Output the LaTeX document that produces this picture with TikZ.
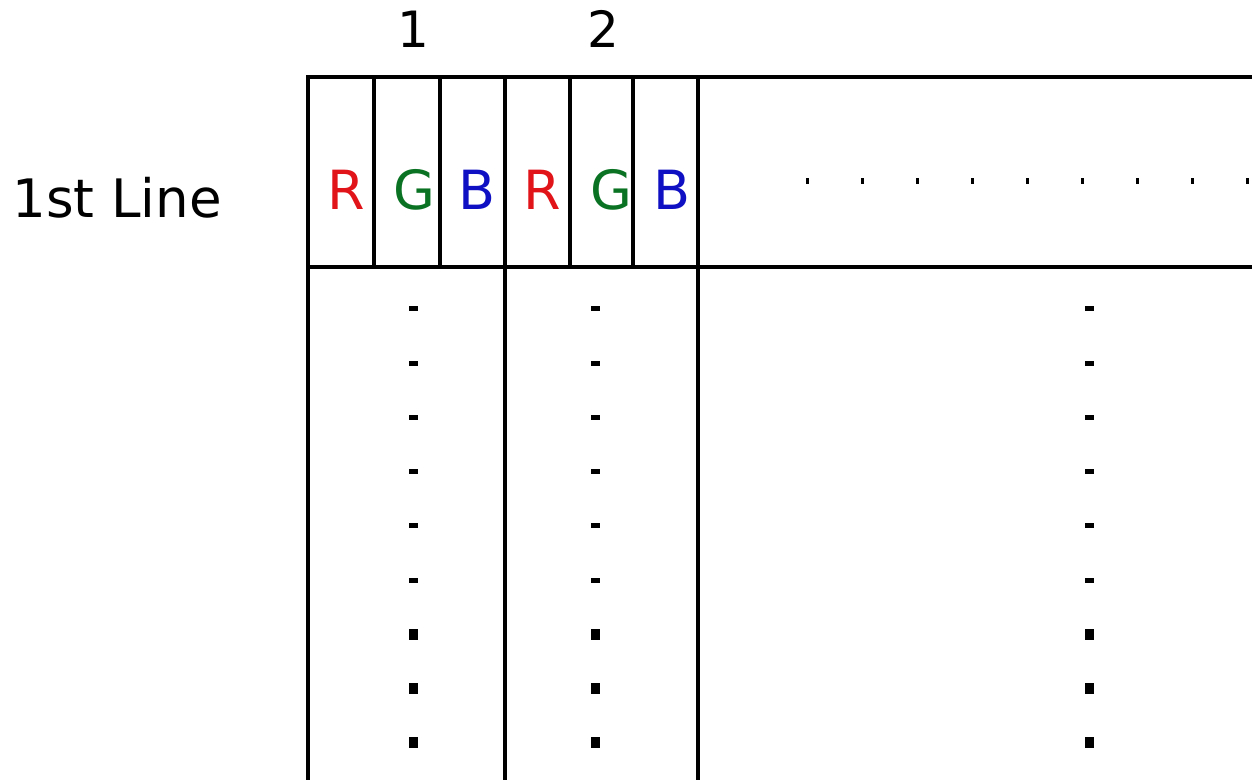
\documentclass[tikz,border=0pt]{standalone}
\usepackage{fontspec}
\setmainfont{DejaVu Sans}
\usetikzlibrary{positioning}
\definecolor{subred}{RGB}{225,20,25}
\definecolor{subgreen}{RGB}{10,115,35}
\definecolor{subblue}{RGB}{15,15,195}
\tikzset{
  gridline/.style = {line width=1.8pt, line cap=rect},
  sub/.style      = {font=\fontsize{27}{27}\selectfont, inner sep=0pt, anchor=base},
  lbl/.style      = {font=\fontsize{25}{25}\selectfont, inner sep=0pt},
  dotmark/.style  = {fill=black, draw=none}
}

\begin{document}
\begin{tikzpicture}[x=0.5pt,y=-0.5pt]
\useasboundingbox (0,0) rectangle (1252,780);
\coordinate (top) at (308,77);
\coordinate (mid) at (308,267);
\coordinate (topend) at (1252,77);
\coordinate (midend) at (1252,267);
\draw[gridline] (top)--(topend);           % top edge
\draw[gridline] (mid)--(midend);           % end of 1st line
\foreach \x in {374,440,570,633}           % sub-pixel borders
  \draw[gridline] (\x,77)--(\x,267);
\foreach \x in {308,505,698}               % pixel borders, run to the bottom
  \draw[gridline] (\x,77)--(\x,780);
\node[lbl, anchor=base] (px1) at (413,48){1};
\node[lbl, anchor=base] (px2) at (603,48){2};
\node[lbl, anchor=base west, font=\fontsize{26.5}{26.5}\selectfont] (line1) at (12,218){1st Line};
\node[sub, text=subred]   (r1) at (346,210){R};
\node[sub, text=subgreen] (g1) at (414,210){G};
\node[sub, text=subblue]  (b1) at (477,210){B};
\node[sub, text=subred]   (r2) at (542,210){R};
\node[sub, text=subgreen] (g2) at (611,210){G};
\node[sub, text=subblue]  (b2) at (672,210){B};
% dots along the 1st line
\foreach \i in {0,...,8}
  \fill[dotmark] ({805.5+55*\i},178.5) rectangle +(3.5,5.5);
% dots down the columns
\foreach \x in {413,595,1089}{
  \foreach \i in {0,...,5}
    \fill[dotmark] ({\x-4.5},{306.5+54.2*\i}) rectangle +(9,5);
  \foreach \i in {6,...,8}
    \fill[dotmark] ({\x-4.5},{303.5+54.2*\i}) rectangle +(9,11);
}
\end{tikzpicture}
\end{document}
